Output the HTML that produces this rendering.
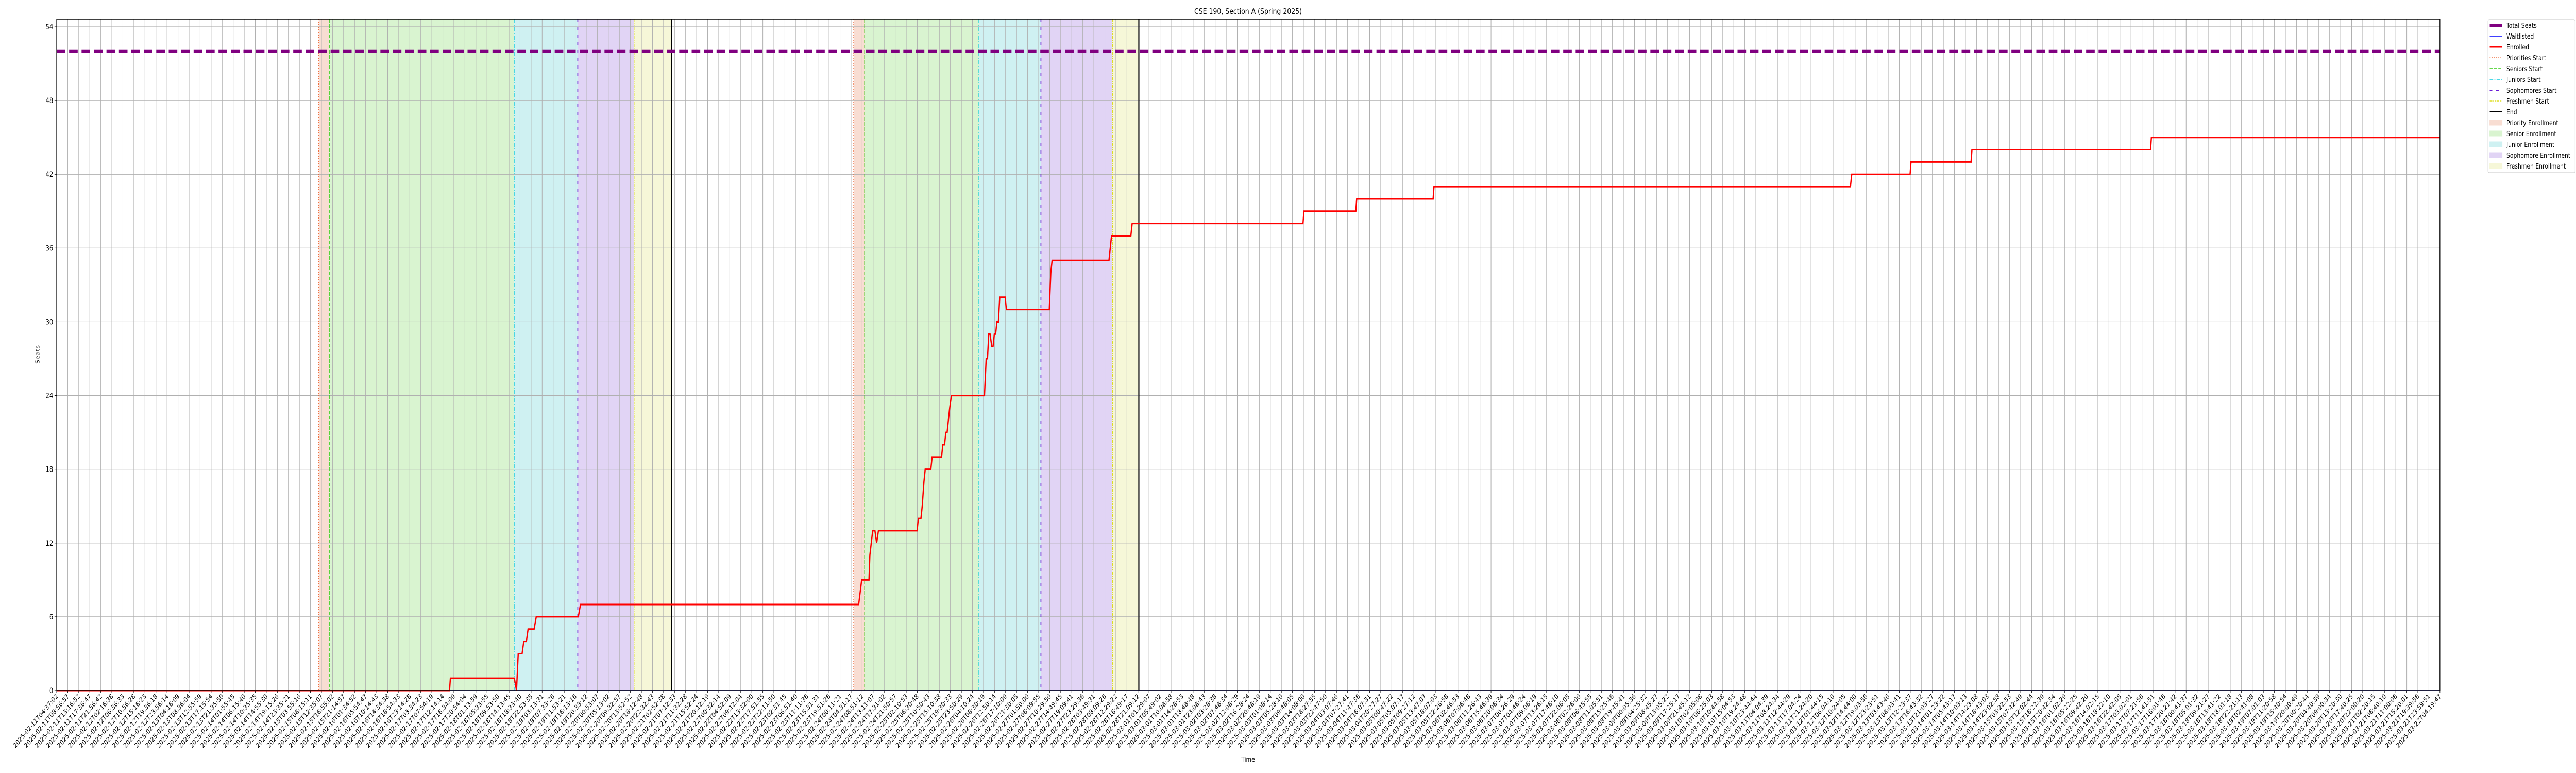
<!DOCTYPE html>
<html><head><meta charset="utf-8">
<meta name="viewport" content="width=6000, initial-scale=1">
<style>
html,body{margin:0;padding:0;background:#fff;width:100%;height:100%;overflow:hidden;}
svg{display:block;font-family:"DejaVu Sans","Liberation Sans",sans-serif;overflow:hidden;width:100vw;height:100vh;}
</style></head>
<body>
<svg id="chart" viewBox="0 0 6000 1500" preserveAspectRatio="none" xmlns="http://www.w3.org/2000/svg">
<rect width="6000" height="1500" fill="#fff"/>
<text x="2907" y="27" font-size="15" text-anchor="middle" fill="#000">CSE 190, Section A (Spring 2025)</text>
<text x="2907" y="1478" font-size="13" text-anchor="middle" fill="#000">Time</text>
<text x="0" y="0" font-size="13" text-anchor="middle" fill="#000" transform="translate(92,688) rotate(-90)">Seats</text>
<g id="shades"></g><g id="grid"></g><g id="vlines"></g><g id="series"></g><g id="axes"></g><g id="legend"></g>
</svg>
<script>
// ---- data (hours since 2025-02-11T04:37:02) ----
const startISO = "2025-02-11T04:37:02";
const spanHours = 935.7125;
const enrolledHours = [0,154.24,154.58,179.69,180.54,181.21,182.73,183.40,184.41,185.09,187.45,188.29,204.81,205.65,314.88,316.06,318.93,319.27,320.38,321.27,321.94,322.64,337.81,338.31,339.33,339.83,340.51,341.01,343.22,343.71,347.42,347.92,348.60,349.10,349.61,350.62,351.29,364.27,364.95,365.45,365.96,366.46,367.14,367.64,368.15,368.65,369.16,369.75,370.27,372.40,372.87,389.73,390.32,390.83,413.16,414.17,421.75,422.26,489.35,489.69,510.08,510.42,540.43,540.76,704.27,704.78,727.70,728.04,751.64,751.97,822.10,822.44,935.71];
const enrolledSeats = [0,0,1,1,0,3,3,4,4,5,5,6,6,7,7,9,9,11,13,13,12,13,13,14,14,15,17,18,18,19,19,20,20,21,21,23,24,24,27,27,29,29,28,28,29,29,30,30,32,32,31,31,34,35,35,37,37,38,38,39,39,40,40,41,41,42,42,43,43,44,44,45,45];
const waitlistHours = [0,935.71];
const waitlistSeats = [0,0];
const totalSeatHours = [0,935.71];
const totalSeats = [52,52];
const phaseStarts = [[102.89,107.04,179.64,204.59,226.72,241.49],[312.91,317.21,362.08,386.44,414.55,424.89]];
const yTicks = [0,6,12,18,24,30,36,42,48,54];
const tickCount = 217;

// ---- scales ----
const X0=132,X1=5683,Y0=1340,Y1=37,YMAX=54.63;
const xs=h=>X0+(h/spanHours)*(X1-X0);
const ys=v=>Y0-(v/YMAX)*(Y0-Y1);
const NS="http://www.w3.org/2000/svg";
function mk(tag,attrs,parent){const e=document.createElementNS(NS,tag);for(const k in attrs)e.setAttribute(k,attrs[k]);parent.appendChild(e);return e;}
const G=id=>document.getElementById(id);

// shaded phases
const shadeColors=["#f8ddd2","#d9f4d0","#cff1f2","#e1d4f5","#f6f7d8"];
const shadeNames=["priority","senior","junior","sophomore","freshmen"];
phaseStarts.forEach((p,pi)=>{
  for(let i=0;i<5;i++){
    const r=mk('rect',{x:xs(p[i]),y:Y1,width:xs(p[i+1])-xs(p[i]),height:Y0-Y1,fill:shadeColors[i]},G('shades'));
    
    
  }
});

// ticks & grid
const t0=new Date(startISO+"Z").getTime();
const pad=n=>String(n).padStart(2,'0');
for(let i=0;i<tickCount;i++){
  const h=spanHours*i/(tickCount-1);
  const x=xs(h);
  const gl=mk('line',{x1:x,x2:x,y1:Y1,y2:Y0,stroke:"#b0b0b0","stroke-width":1.2},G('grid'));
  
  
  mk('line',{x1:x,x2:x,y1:Y0,y2:Y0+5,stroke:"#000","stroke-width":1},G('axes'));
  const d=new Date(t0+h*3600000);
  const lab=`${d.getUTCFullYear()}-${pad(d.getUTCMonth()+1)}-${pad(d.getUTCDate())}T${pad(d.getUTCHours())}:${pad(d.getUTCMinutes())}:${pad(d.getUTCSeconds())}`;
  const t=mk('text',{x:0,y:0,"font-size":13,"text-anchor":"end",transform:`translate(${x+4},${Y0+12}) rotate(-45)`,fill:"#000"},G('axes'));
  t.textContent=lab;
  
  
}
yTicks.forEach(v=>{
  const y=ys(v);
  const gl=mk('line',{x1:X0,x2:X1,y1:y,y2:y,stroke:"#b0b0b0","stroke-width":1.2},G('grid'));
  
  
  mk('line',{x1:X0-5,x2:X0,y1:y,y2:y,stroke:"#000","stroke-width":1},G('axes'));
  const t=mk('text',{x:X0-8,y:y+5,"font-size":14,"text-anchor":"end",fill:"#000"},G('axes'));
  t.textContent=v;
  
  
});

// phase vertical lines
const vStyles=[
 {c:"#ee6a3a",d:"2 3",w:1.5,n:"priorities-start-line"},
 {c:"#33cc11",d:"7 3",w:1.5,n:"seniors-start-line"},
 {c:"#11ccdd",d:"8 3 2 3",w:1.5,n:"juniors-start-line"},
 {c:"#6a1bd6",d:"6 9",w:2,n:"sophomores-start-line"},
 {c:"#dddd22",d:"6 2 2 2 2 2",w:1.5,n:"freshmen-start-line"},
 {c:"#000",d:"",w:2.5,n:"end-line"}];
phaseStarts.forEach(p=>{
  p.forEach((h,i)=>{
    const s=vStyles[i];
    const l=mk('line',{x1:xs(h),x2:xs(h),y1:Y1,y2:Y0,stroke:s.c,"stroke-width":s.w,"stroke-dasharray":s.d},G('vlines'));
    
    
  });
});

// series
const pts=(hs,vs)=>hs.map((h,i)=>xs(h).toFixed(2)+","+ys(vs[i]).toFixed(2)).join(" ");
const ts=mk('polyline',{points:pts(totalSeatHours,totalSeats),fill:"none",stroke:"#800080","stroke-width":6,"stroke-dasharray":"20 9"},G('series'));


const wl=mk('polyline',{points:pts(waitlistHours,waitlistSeats),fill:"none",stroke:"#0000ff","stroke-width":1.5},G('series'));


const en=mk('polyline',{points:pts(enrolledHours,enrolledSeats),fill:"none",stroke:"#ff0000","stroke-width":3,"stroke-linejoin":"miter"},G('series'));



// frame
const fr=mk('rect',{x:X0,y:Y1,width:X1-X0,height:Y0-Y1,fill:"none",stroke:"#000","stroke-width":1.5},G('axes'));



// legend
const L=G('legend');
const box=mk('rect',{x:5795,y:38,width:203,height:297,rx:3,fill:"#fff",stroke:"#d0d0d0","stroke-width":1.2},L);


const items=[
 {t:"Total Seats",k:"line",c:"#800080",w:6,d:""},
 {t:"Waitlisted",k:"line",c:"#0000ff",w:1.5,d:""},
 {t:"Enrolled",k:"line",c:"#ff0000",w:3,d:""},
 {t:"Priorities Start",k:"line",c:"#ee6a3a",w:1.5,d:"2 3"},
 {t:"Seniors Start",k:"line",c:"#33cc11",w:1.5,d:"7 3"},
 {t:"Juniors Start",k:"line",c:"#11ccdd",w:1.5,d:"8 3 2 3"},
 {t:"Sophomores Start",k:"line",c:"#6a1bd6",w:2,d:"6 9"},
 {t:"Freshmen Start",k:"line",c:"#dddd22",w:1.5,d:"6 2 2 2 2 2"},
 {t:"End",k:"line",c:"#000",w:2,d:""},
 {t:"Priority Enrollment",k:"box",c:"#f8ddd2"},
 {t:"Senior Enrollment",k:"box",c:"#d9f4d0"},
 {t:"Junior Enrollment",k:"box",c:"#cff1f2"},
 {t:"Sophomore Enrollment",k:"box",c:"#e1d4f5"},
 {t:"Freshmen Enrollment",k:"box",c:"#f6f7d8"}];
items.forEach((it,i)=>{
  const y=49+i*21;
  const g=mk('g',{},L);
  
  
  if(it.k==="line") mk('line',{x1:5799,x2:5828,y1:y,y2:y,stroke:it.c,"stroke-width":it.w,"stroke-dasharray":it.d},g);
  else mk('rect',{x:5799,y:y-5,width:29,height:10,fill:it.c,stroke:it.c},g);
  const t=mk('text',{x:5838,y:y+5,"font-size":13,fill:"#000"},g);
  t.textContent=it.t;
});
</script>
</body></html>
